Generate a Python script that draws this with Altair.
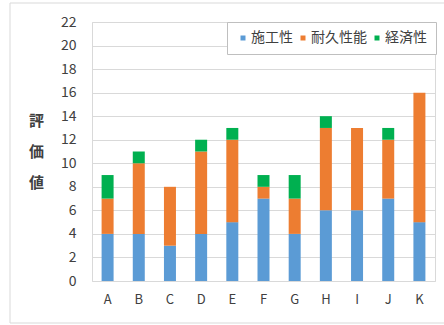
import altair as alt
import pandas as pd

categories = ["A", "B", "C", "D", "E", "F", "G", "H", "I", "J", "K"]
series = ["施工性", "耐久性能", "経済性"]
sekou = [4, 4, 3, 4, 5, 7, 4, 6, 6, 7, 5]
taikyu = [3, 6, 5, 7, 7, 1, 3, 7, 7, 5, 11]
keizai = [2, 1, 0, 1, 1, 1, 2, 1, 0, 1, 0]
colors = ["#5B9BD5", "#ED7D31", "#00B050"]
y_ticks = list(range(0, 23, 2))

rows = []
for i, c in enumerate(categories):
    for k, (s, vals) in enumerate(zip(series, [sekou, taikyu, keizai])):
        rows.append({"cat": c, "series": s, "value": vals[i], "order": k})
df = pd.DataFrame(rows)

FONT = "Noto Sans CJK JP"

bars = alt.Chart(df).mark_bar(size=12).encode(
    x=alt.X("cat:N", sort=categories, title=None,
            axis=alt.Axis(labelAngle=0, labelFontSize=13, labelColor="#404040",
                          labelPadding=12, tickSize=0, domain=False, grid=False,
                          labelFont=FONT)),
    y=alt.Y("value:Q", stack="zero", title=["評", "価", "値"],
            scale=alt.Scale(domain=[0, 22], nice=False),
            axis=alt.Axis(values=y_ticks, labelFontSize=14, labelColor="#404040",
                          labelPadding=16, tickSize=0, domain=False,
                          gridColor="#d9d9d9", labelFont=FONT,
                          titleAngle=0, titleX=-56, titleY=98,
                          titleAlign="center", titleBaseline="middle",
                          titleLineHeight=31, titleFontSize=15,
                          titleFontWeight="bold", titleColor="#404040",
                          titleFont=FONT)),
    color=alt.Color("series:N",
                    scale=alt.Scale(domain=series, range=colors),
                    legend=alt.Legend(title=None, orient="none", legendX=135, legendY=0,
                                      direction="horizontal", symbolType="square",
                                      symbolSize=25, symbolStrokeWidth=0,
                                      labelFontSize=14, labelColor="#404040",
                                      labelFont=FONT, labelOffset=1,
                                      columnPadding=3, padding=9,
                                      strokeColor="#bfbfbf", fillColor="white")),
    order=alt.Order("order:Q"),
)

frame = alt.Chart(pd.DataFrame({"a": [0]})).mark_rect(
    fill=None, stroke="#d9d9d9", strokeWidth=1
).encode(
    x=alt.value(-82), x2=alt.value(360), y=alt.value(-19), y2=alt.value(301)
)

chart = alt.layer(bars, frame).properties(
    width=343, height=259,
    autosize=alt.AutoSizeParams(type="none"),
    padding={"left": 92, "top": 22, "right": 9, "bottom": 44},
).configure_view(stroke="#d9d9d9")

chart.save("out.html", embed_options={"renderer": "svg", "actions": False})
